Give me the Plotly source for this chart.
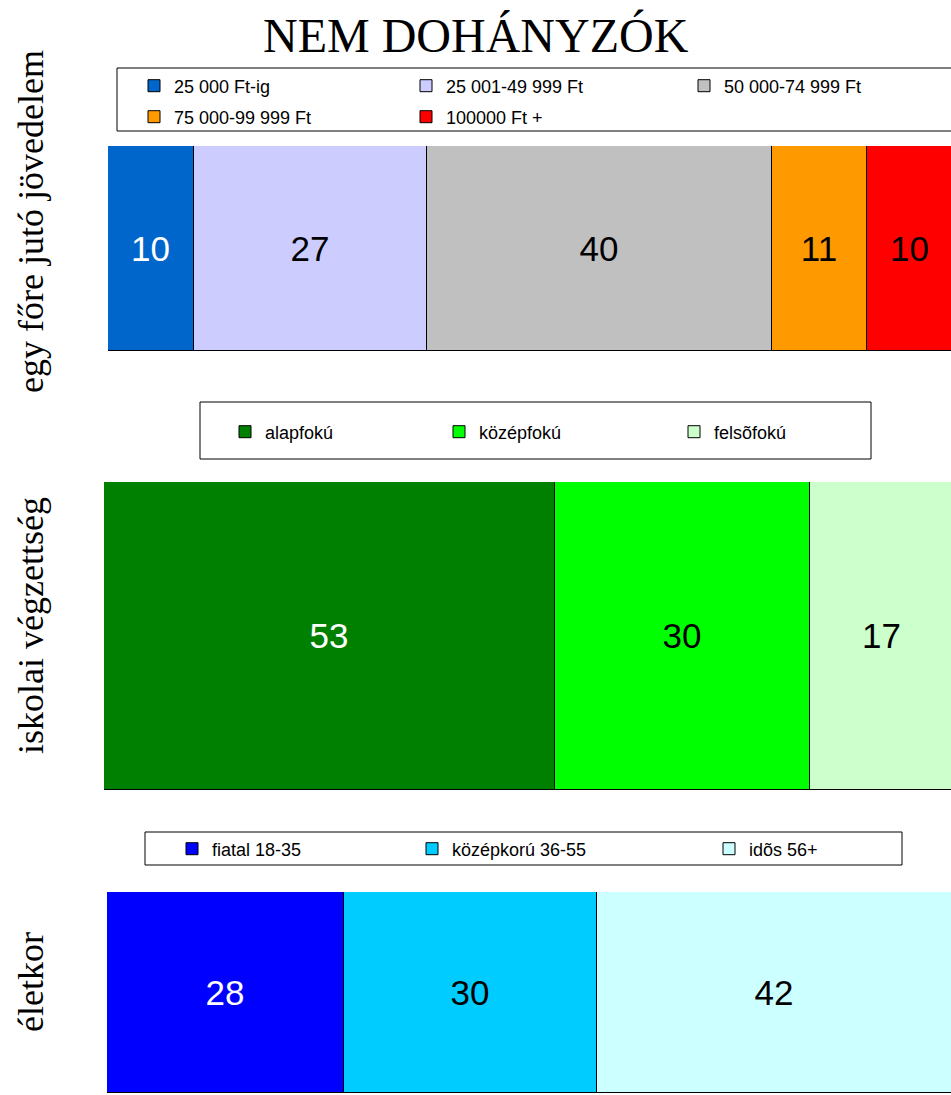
import plotly.graph_objects as go

# ---------------- data ----------------
title_text = "NEM DOHÁNYZÓK"
panel_labels = ["egy főre jutó jövedelem", "iskolai végzettség", "életkor"]

income_categories = ["25 000 Ft-ig", "25 001-49 999 Ft", "50 000-74 999 Ft",
                     "75 000-99 999 Ft", "100000 Ft +"]
income_values = [10, 27, 40, 11, 10]

edu_categories = ["alapfokú", "középfokú", "felsõfokú"]
edu_values = [53, 30, 17]

age_categories = ["fiatal 18-35", "középkorú 36-55", "idõs 56+"]
age_values = [28, 30, 42]

# ---------------- styles ----------------
W, H = 951, 1095
income_colors = ["#0066CC", "#CCCCFF", "#C0C0C0", "#FF9900", "#FF0000"]
income_text = ["white", "black", "black", "black", "black"]
edu_colors = ["#008000", "#00FF00", "#CCFFCC"]
edu_text = ["white", "black", "black"]
age_colors = ["#0000FF", "#00CCFF", "#CCFFFF"]
age_text = ["white", "black", "black"]


def px(x):
    return x / W


def py(y):
    return 1 - y / H


panels = [
    dict(cats=income_categories, vals=income_values, colors=income_colors, tcol=income_text,
         left=108, top=146, bottom=351, xmax=97.8, label_y=222,
         frame=(117, 68, 962, 131),
         leg_pos=[(154, 86), (426, 86), (704, 86), (154, 117), (426, 117)]),
    dict(cats=edu_categories, vals=edu_values, colors=edu_colors, tcol=edu_text,
         left=104, top=482, bottom=790, xmax=99.6, label_y=626,
         frame=(200, 402, 871, 459),
         leg_pos=[(245, 432), (459, 432), (694, 432)]),
    dict(cats=age_categories, vals=age_values, colors=age_colors, tcol=age_text,
         left=107, top=892, bottom=1093, xmax=99.9, label_y=982,
         frame=(145, 832, 902, 865),
         leg_pos=[(192, 849), (432, 849), (729, 849)]),
]

fig = go.Figure()
layout = dict(
    width=W, height=H, margin=dict(l=0, r=0, t=0, b=0),
    paper_bgcolor="white", plot_bgcolor="white",
    barmode="stack", bargap=0, showlegend=True,
    font=dict(family="Liberation Sans, Arial, sans-serif", color="black"),
)
shapes = []
annotations = []
leg_idx = 0

for i, p in enumerate(panels):
    suffix = "" if i == 0 else str(i + 1)
    xa, ya = "x" + suffix, "y" + suffix
    for cat, val, col, tc, pos in zip(p["cats"], p["vals"], p["colors"], p["tcol"], p["leg_pos"]):
        leg_idx += 1
        lname = "legend" if leg_idx == 1 else "legend%d" % leg_idx
        fig.add_trace(go.Bar(
            x=[val], y=[0], orientation="h", name=cat,
            marker=dict(color=col, line=dict(color="black", width=1)),
            text=[str(val)], textposition="inside", insidetextanchor="middle",
            textfont=dict(size=35, color=tc, family="Liberation Sans, Arial, sans-serif"),
            constraintext="none", cliponaxis=True,
            xaxis=xa, yaxis=ya, legend=lname, hoverinfo="name+x",
        ))
        layout[lname] = dict(
            x=px(pos[0] - 20), y=py(pos[1]), xanchor="left", yanchor="middle",
            bgcolor="rgba(0,0,0,0)", borderwidth=0,
            font=dict(size=18, family="Liberation Sans, Arial, sans-serif", color="black"),
        )
    layout["xaxis" + suffix] = dict(
        domain=[px(p["left"]), 1], range=[0, p["xmax"]], visible=False,
        anchor=ya, fixedrange=True,
    )
    layout["yaxis" + suffix] = dict(
        domain=[py(p["bottom"]), py(p["top"])], range=[-0.5, 0.5], visible=False,
        anchor=xa, fixedrange=True,
    )
    fx0, fy0, fx1, fy1 = p["frame"]
    shapes.append(dict(type="rect", xref="paper", yref="paper",
                       x0=px(fx0), x1=px(fx1), y0=py(fy1), y1=py(fy0),
                       line=dict(color="black", width=1), fillcolor="rgba(0,0,0,0)",
                       layer="below"))
    annotations.append(dict(
        text=panel_labels[i], xref="paper", yref="paper",
        x=px(31), y=py(p["label_y"]), xanchor="center", yanchor="middle",
        textangle=-90, showarrow=False,
        font=dict(size=36, family="Liberation Serif, Times New Roman, serif", color="black"),
    ))

annotations.append(dict(
    text=title_text, xref="paper", yref="paper", x=px(476), y=py(36),
    xanchor="center", yanchor="middle", showarrow=False,
    font=dict(size=48, family="Liberation Serif, Times New Roman, serif", color="black"),
))

layout["shapes"] = shapes
layout["annotations"] = annotations
fig.update_layout(**layout)
fig.write_html(
    "out.html",
    config={"displayModeBar": False},
    post_script="document.body.style.margin='0';document.body.style.overflow='hidden';",
)
